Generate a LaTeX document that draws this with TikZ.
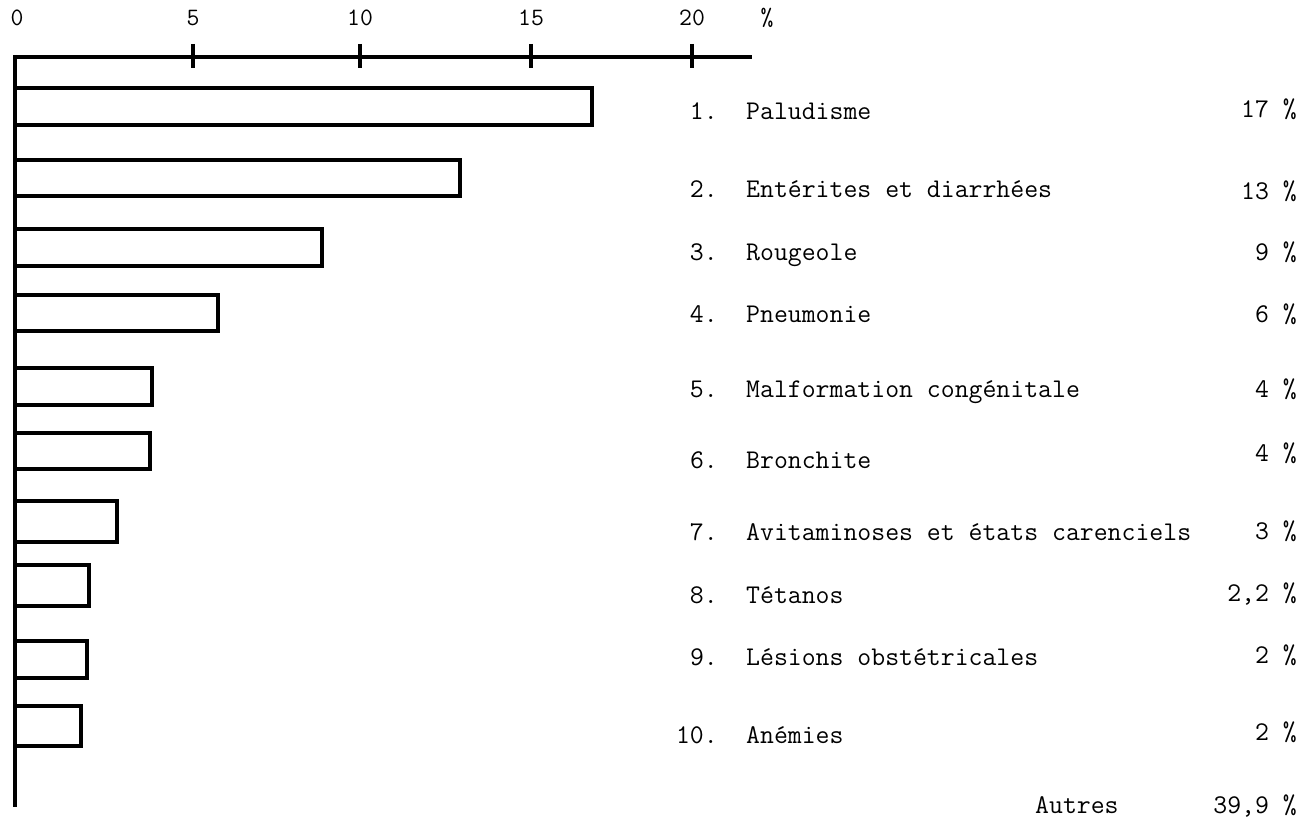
\documentclass[tikz,border=0pt]{standalone}
\usepackage{fontspec}
\begin{document}
\begin{tikzpicture}[x=1pt,y=-1pt,
  axisline/.style={line width=3.5pt},
  barbox/.style={draw, line width=3.5pt, line join=miter},
  ticklabel/.style={font=\ttfamily\fontsize{25}{28}\selectfont, anchor=base, inner sep=0pt},
  numlabel/.style={font=\ttfamily\fontsize{27}{30}\selectfont, anchor=base east, inner sep=0pt},
  causelabel/.style={font=\ttfamily\fontsize{27}{30}\selectfont, anchor=base west, inner sep=0pt},
  pctlabel/.style={font=\ttfamily\fontsize{27}{30}\selectfont, anchor=base east, inner sep=0pt},
]
\useasboundingbox[fill=white] (0,0) rectangle (1302,826);

% scale along the top
\draw[axisline] (13,57) -- (752,57);
\draw[axisline] (15,55) -- (15,807);
\foreach \v/\x in {5/193,10/360,15/531,20/692}{
  \draw[axisline] (\x,44) -- (\x,68);
  \node[ticklabel] (tick\v) at (\x,26) {\v};
}
\node[ticklabel] (tick0) at (17,26) {0};
\node[ticklabel] (tickpct) at (767,26) {\%};

% bars: top / bottom / right end
\foreach \t/\b/\r in {88/125/592, 160/196/460, 229/266/322, 295/331/218,
  368/405/152, 433/469/150, 501/542/117, 565/606/89, 641/678/87, 706/746/81}{
  \draw[barbox] (15,\t) rectangle (\r,\b);
}

% legend
\node[numlabel] (n1) at (718,120) {1.};
\node[causelabel] (c1) at (746,120) {Paludisme};
\node[pctlabel] (p1) at (1297,118) {17 \%};

\node[numlabel] (n2) at (718,198) {2.};
\node[causelabel] (c2) at (746,198) {Entérites et diarrhées};
\node[pctlabel] (p2) at (1297,200) {13 \%};

\node[numlabel] (n3) at (718,261) {3.};
\node[causelabel] (c3) at (746,261) {Rougeole};
\node[pctlabel] (p3) at (1297,261) {9 \%};

\node[numlabel] (n4) at (718,323) {4.};
\node[causelabel] (c4) at (746,323) {Pneumonie};
\node[pctlabel] (p4) at (1297,323) {6 \%};

\node[numlabel] (n5) at (718,398) {5.};
\node[causelabel] (c5) at (746,398) {Malformation congénitale};
\node[pctlabel] (p5) at (1297,398) {4 \%};

\node[numlabel] (n6) at (718,468) {6.};
\node[causelabel] (c6) at (746,468) {Bronchite};
\node[pctlabel] (p6) at (1297,461) {4 \%};

\node[numlabel] (n7) at (718,540) {7.};
\node[causelabel] (c7) at (746,540) {Avitaminoses et états carenciels};
\node[pctlabel] (p7) at (1297,539) {3 \%};

\node[numlabel] (n8) at (718,603) {8.};
\node[causelabel] (c8) at (746,603) {Tétanos};
\node[pctlabel] (p8) at (1297,601) {2,2 \%};

\node[numlabel] (n9) at (718,665) {9.};
\node[causelabel] (c9) at (746,665) {Lésions obstétricales};
\node[pctlabel] (p9) at (1297,663) {2 \%};

\node[numlabel] (n10) at (718,743) {10.};
\node[causelabel] (c10) at (746,743) {Anémies};
\node[pctlabel] (p10) at (1297,740) {2 \%};

\node[causelabel] (cother) at (1035,813) {Autres};
\node[pctlabel] (pother) at (1297,813) {39,9 \%};
\end{tikzpicture}
\end{document}
